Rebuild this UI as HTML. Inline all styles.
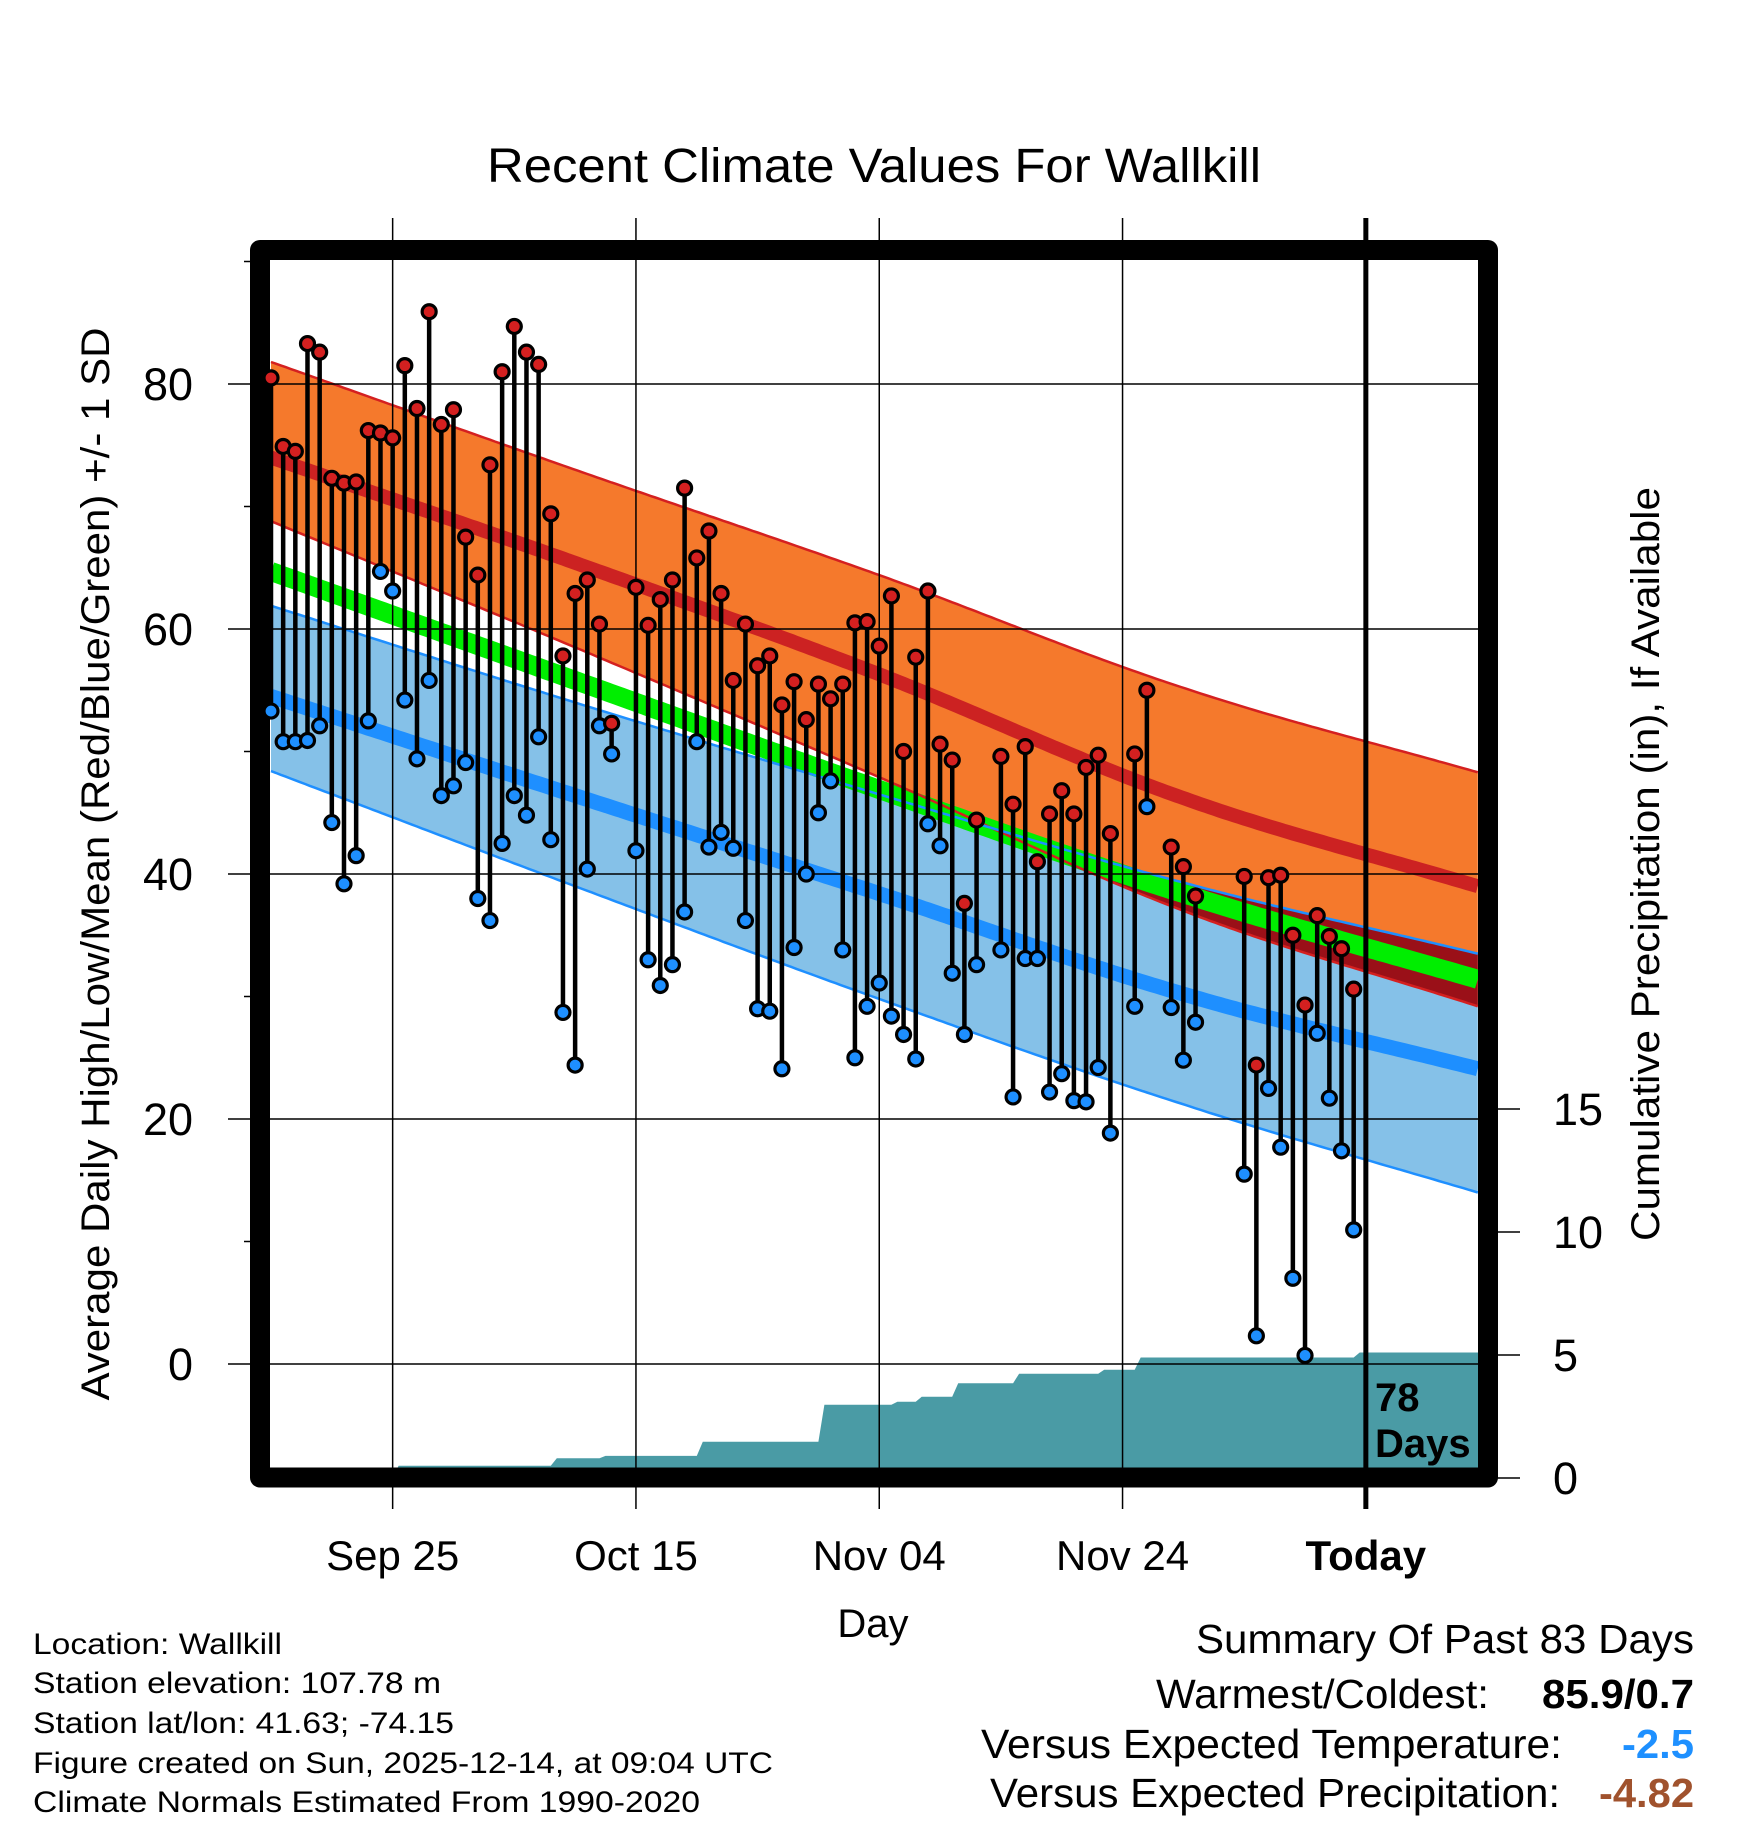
<!DOCTYPE html>
<html><head><meta charset="utf-8"><style>
html,body{margin:0;padding:0;background:#fff;}
svg{display:block;font-family:"Liberation Sans",Arial,sans-serif;}
</style></head><body>
<svg id="chart" width="1748" height="1828" viewBox="0 0 1748 1828" xmlns="http://www.w3.org/2000/svg">
<defs><clipPath id="plotClip"><rect x="270" y="260" width="1208" height="1207.5"/></clipPath></defs>
<rect x="0" y="0" width="1748" height="1828" fill="#fff"/>
<text x="874" y="182" font-size="48" text-anchor="middle" textLength="774" lengthAdjust="spacingAndGlyphs">Recent Climate Values For Wallkill</text>
<g id="bands" clip-path="url(#plotClip)"></g>
<g id="precip" clip-path="url(#plotClip)"></g>
<g id="grid"></g>
<rect x="260" y="250" width="1228" height="1227.5" fill="none" stroke="#000" stroke-width="20" stroke-linejoin="round"/>
<g id="marks"></g>
<g id="labels"></g>
<text transform="translate(109,864) rotate(-90)" font-size="40" text-anchor="middle" textLength="1073" lengthAdjust="spacingAndGlyphs">Average Daily High/Low/Mean (Red/Blue/Green) +/- 1 SD</text>
<text transform="translate(1659,864) rotate(-90)" font-size="40" text-anchor="middle" textLength="754" lengthAdjust="spacingAndGlyphs">Cumulative Precipitation (in), If Available</text>
<text x="873" y="1637" font-size="40" text-anchor="middle">Day</text>
<text x="1375" y="1411" font-size="40" font-weight="bold">78</text>
<text x="1375" y="1457" font-size="40" font-weight="bold">Days</text>
<g font-size="30">
<text x="33" y="1654" textLength="249" lengthAdjust="spacingAndGlyphs">Location: Wallkill</text>
<text x="33" y="1693" textLength="408" lengthAdjust="spacingAndGlyphs">Station elevation: 107.78 m</text>
<text x="33" y="1733" textLength="421" lengthAdjust="spacingAndGlyphs">Station lat/lon: 41.63; -74.15</text>
<text x="33" y="1773" textLength="740" lengthAdjust="spacingAndGlyphs">Figure created on Sun, 2025-12-14, at 09:04 UTC</text>
<text x="33" y="1812" textLength="667" lengthAdjust="spacingAndGlyphs">Climate Normals Estimated From 1990-2020</text>
</g>
<g font-size="41">
<text x="1694" y="1653" text-anchor="end" textLength="498" lengthAdjust="spacingAndGlyphs">Summary Of Past 83 Days</text>
<text x="1489" y="1708" text-anchor="end" textLength="333" lengthAdjust="spacingAndGlyphs">Warmest/Coldest:</text>
<text x="1694" y="1708" text-anchor="end" font-weight="bold" textLength="152" lengthAdjust="spacingAndGlyphs">85.9/0.7</text>
<text x="1562" y="1758" text-anchor="end" textLength="581" lengthAdjust="spacingAndGlyphs">Versus Expected Temperature:</text>
<text x="1694" y="1758" text-anchor="end" font-weight="bold" fill="#1e90ff" textLength="72" lengthAdjust="spacingAndGlyphs">-2.5</text>
<text x="1560" y="1807" text-anchor="end" textLength="570" lengthAdjust="spacingAndGlyphs">Versus Expected Precipitation:</text>
<text x="1694" y="1807" text-anchor="end" font-weight="bold" fill="#a0522d" textLength="95" lengthAdjust="spacingAndGlyphs">-4.82</text>
</g>
</svg>
<script>
// ---- data ----
const normDays = [0, 25, 50, 75, 99.2];
const hiPlus  = [81.8, 73.0, 64.4, 55.2, 48.3];
const hiMean  = [74.0, 65.4, 56.3, 46.2, 39.0];
const hiMinus = [68.8, 58.5, 47.9, 37.0, 29.2];
const meanT   = [64.7, 55.8, 46.9, 38.4, 31.4];
const loPlus  = [61.9, 54.0, 46.5, 39.3, 33.5];
const loMean  = [54.5, 46.4, 38.4, 30.2, 24.1];
const loMinus = [48.4, 39.0, 29.8, 21.2, 14.0];
const obsDays = [0,1,2,3,4,5,6,7,8,9,10,11,12,13,14,15,16,17,18,19,20,21,22,23,24,25,26,27,28,30,31,32,33,34,35,36,37,38,39,40,41,42,43,44,45,46,47,48,49,50,51,52,53,54,55,56,57,58,60,61,62,63,64,65,66,67,68,69,71,72,74,75,76,80,81,82,83,84,85,86,87,88,89];
const highs = [80.5,74.9,74.5,83.3,82.6,72.3,71.9,72.0,76.2,76.0,75.6,81.5,78.0,85.9,76.7,77.9,67.5,64.4,73.4,81.0,84.7,82.6,81.6,69.4,57.8,62.9,64.0,60.4,52.3,63.4,60.3,62.4,64.0,71.5,65.8,68.0,62.9,55.8,60.4,57.0,57.8,53.8,55.7,52.6,55.5,54.3,55.5,60.5,60.6,58.6,62.7,50.0,57.7,63.1,50.6,49.3,37.6,44.4,49.6,45.7,50.4,41.0,44.9,46.8,44.9,48.7,49.7,43.3,49.8,55.0,42.2,40.6,38.2,39.8,24.4,39.7,39.9,35.0,29.3,36.6,34.9,33.9,30.6];
const lows = [53.3,50.8,50.8,50.9,52.1,44.2,39.2,41.5,52.5,64.7,63.1,54.2,49.4,55.8,46.4,47.2,49.1,38.0,36.2,42.5,46.4,44.8,51.2,42.8,28.7,24.4,40.4,52.1,49.8,41.9,33.0,30.9,32.6,36.9,50.8,42.2,43.4,42.1,36.2,29.0,28.8,24.1,34.0,40.0,45.0,47.6,33.8,25.0,29.2,31.1,28.4,26.9,24.9,44.1,42.3,31.9,26.9,32.6,33.8,21.8,33.1,33.1,22.2,23.7,21.5,21.4,24.2,18.85,29.2,45.5,29.1,24.8,27.9,15.5,2.3,22.5,17.7,7.0,0.7,27.0,21.7,17.4,10.95];
const precipDays = [0,10,23,27,35,45,51,53,56,61,68,71,89,99.2];
const precipCum  = [0,0.5,0.8,0.9,1.47,2.98,3.1,3.3,3.85,4.24,4.4,4.9,5.1,5.1];
const tempTicks = [0,20,40,60,80];
const minorTicks = [10,30,50,70,90];
const precipTicks = [0,5,10,15];
const dateTickDays = [10,30,50,70,90];
const dateTickLabels = ["Sep 25","Oct 15","Nov 04","Nov 24","Today"];

// ---- axes ----
const xS = d => 271 + d*12.165;
const yT = t => 1364 - t*12.25;
const yP = p => 1478 - p*24.6;
const NS = "http://www.w3.org/2000/svg";
function mk(tag, attrs, parent){const e=document.createElementNS(NS,tag);for(const k in attrs)e.setAttribute(k,attrs[k]);parent.appendChild(e);return e;}
// smooth (Catmull-Rom) interpolation through normal knots
function interp(arr, d){
  const n=normDays.length;
  let i=0; while(i<n-2 && d>normDays[i+1]) i++;
  const t=(d-normDays[i])/(normDays[i+1]-normDays[i]);
  const p0=i>0?arr[i-1]:2*arr[0]-arr[1];
  const p1=arr[i], p2=arr[i+1];
  const p3=i+2<n?arr[i+2]:2*arr[n-1]-arr[n-2];
  const t2=t*t,t3=t2*t;
  return 0.5*((2*p1)+(-p0+p2)*t+(2*p0-5*p1+4*p2-p3)*t2+(-p0+3*p1-3*p2+p3)*t3);
}
const samples=[];for(let d=0;d<=99.2;d+=0.4)samples.push(d);samples.push(99.2);
function linePts(arr){return samples.map(d=>xS(d).toFixed(1)+","+yT(interp(arr,d)).toFixed(1)).join(" ");}
function bandPts(a,b){return linePts(a)+" "+samples.slice().reverse().map(d=>xS(d).toFixed(1)+","+yT(interp(b,d)).toFixed(1)).join(" ");}

const bands=document.getElementById("bands");
let e;
e=mk("polygon",{points:bandPts(loPlus,loMinus),fill:"#85c1e8"},bands);


e=mk("polygon",{points:bandPts(hiPlus,hiMinus),fill:"#f5792c"},bands);


const topO=samples.map(d=>Math.min(interp(hiPlus,d),interp(loPlus,d)));
const botO=samples.map((d,i)=>Math.min(topO[i],Math.max(interp(hiMinus,d),interp(loMinus,d))));
let op=samples.map((d,i)=>xS(d).toFixed(1)+","+yT(topO[i]).toFixed(1)).join(" ")+" "+samples.map((d,i)=>xS(d).toFixed(1)+","+yT(botO[i]).toFixed(1)).reverse().join(" ");
e=mk("polygon",{points:op,fill:"#9a1018"},bands);


e=mk("polyline",{points:linePts(meanT),fill:"none",stroke:"#00ee00","stroke-width":19},bands);


e=mk("polyline",{points:linePts(loMean),fill:"none",stroke:"#1e8fff","stroke-width":15},bands);


e=mk("polyline",{points:linePts(hiMean),fill:"none",stroke:"#cc2222","stroke-width":14},bands);


[[hiPlus,"#d42020","high-plus-sd-line"],[hiMinus,"#d42020","high-minus-sd-line"],[loPlus,"#1e8fff","low-plus-sd-line"],[loMinus,"#1e8fff","low-minus-sd-line"]].forEach(a=>{
  const l=mk("polyline",{points:linePts(a[0]),fill:"none",stroke:a[1],"stroke-width":2.5},bands);
  
  
});

// precip step area
const pg=document.getElementById("precip");
let pp=xS(0)+","+yP(0);
for(let i=0;i<precipDays.length;i++){
  const x=xS(precipDays[i]);
  const prev=i>0?precipCum[i-1]:0;
  pp+=" "+x.toFixed(1)+","+yP(prev).toFixed(1)+" "+(x+6).toFixed(1)+","+yP(precipCum[i]).toFixed(1);
}
pp+=" "+xS(99.2)+","+yP(0);
e=mk("polygon",{points:pp,fill:"#4a9ba5"},pg);



// grid and ticks
const grid=document.getElementById("grid");
const labels=document.getElementById("labels");
tempTicks.forEach(t=>{
  const g=mk("line",{x1:228,x2:1478,y1:yT(t),y2:yT(t),stroke:"#000","stroke-width":1.5},grid);
  
  
  const tx=mk("text",{x:193,y:yT(t)+16,"font-size":45,"text-anchor":"end"},labels);
  tx.textContent=t;
  
  
});
minorTicks.forEach(t=>{
  const g=mk("line",{x1:244,x2:262,y1:yT(t),y2:yT(t),stroke:"#000","stroke-width":1.5},grid);
  
  
});
precipTicks.forEach(p=>{
  const g=mk("line",{x1:1488,x2:1520,y1:yP(p),y2:yP(p),stroke:"#000","stroke-width":1.5},grid);
  
  
  const tx=mk("text",{x:1553,y:yP(p)+16,"font-size":45},labels);
  tx.textContent=p;
  
  
});
dateTickDays.forEach((d,i)=>{
  const today=dateTickLabels[i]==="Today";
  const g=mk("line",{x1:xS(d),x2:xS(d),y1:218,y2:1509,stroke:"#000","stroke-width":today?5:1.5},today?document.getElementById("marks"):grid);
  
  
  const tx=mk("text",{x:xS(d),y:1570,"font-size":42,"text-anchor":"middle","font-weight":today?"bold":"normal"},labels);
  tx.textContent=dateTickLabels[i];
  
  
});

// observation stems and points
const marks=document.getElementById("marks");
obsDays.forEach((d,i)=>{
  const x=xS(d);
  const s=mk("line",{x1:x,x2:x,y1:yT(highs[i]),y2:yT(lows[i]),stroke:"#000","stroke-width":4.5},marks);
  
  
});
obsDays.forEach((d,i)=>{
  const x=xS(d);
  const h=mk("circle",{cx:x,cy:yT(highs[i]),r:7,fill:"#d42020",stroke:"#000","stroke-width":3.2},marks);
  
  
  const l=mk("circle",{cx:x,cy:yT(lows[i]),r:7,fill:"#1e8fff",stroke:"#000","stroke-width":3.2},marks);
  
  
});
</script>
</body></html>
